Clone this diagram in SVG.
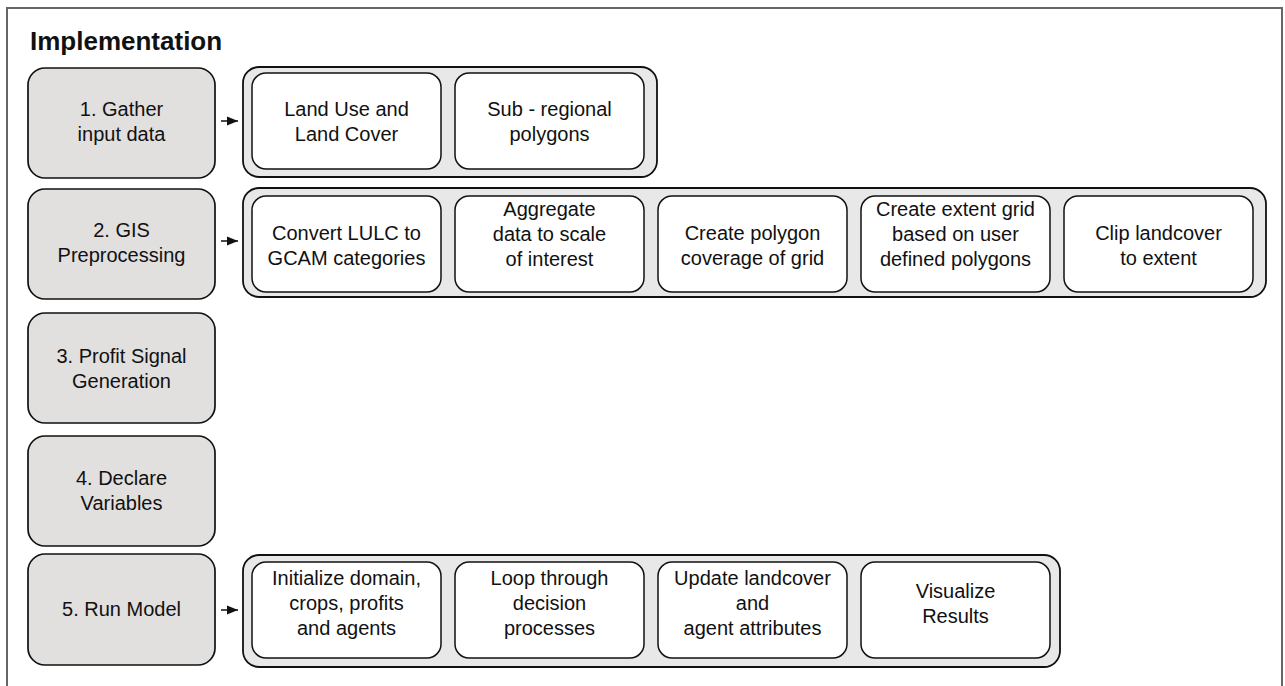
<svg xmlns="http://www.w3.org/2000/svg" width="1285" height="686" viewBox="0 0 1285 686">
<style>
.frame{fill:#fff;stroke:#666;stroke-width:2}
.step{fill:#e2dfdf;stroke:#111;stroke-width:1.7}
.cont{fill:#e8e8e8;stroke:#111;stroke-width:1.8}
.box{fill:#fff;stroke:#111;stroke-width:1.5}
text{font-family:"Liberation Sans",Arial,sans-serif;font-size:20px;fill:#111;text-anchor:middle}
.title{font-weight:bold;font-size:26px;text-anchor:start}
.conn{stroke:#111;stroke-width:1.5;fill:none;marker-end:url(#ah)}
</style>
<defs>
<marker id="ah" viewBox="0 0 10 10" refX="10" refY="5" markerWidth="11" markerHeight="11" markerUnits="userSpaceOnUse" orient="auto">
<path d="M0,1 L10,5 L0,9 Z" fill="#111"/>
</marker>
</defs>
<rect class="frame" x="7" y="8" width="1275" height="700"/>
<text class="title" x="30" y="50">Implementation</text>

<g id="step1"><rect class="step" x="28" y="68" width="187" height="110" rx="17"/><text x="121.5" y="116">1. Gather</text><text x="121.5" y="141">input data</text></g>
<g id="step2"><rect class="step" x="28" y="189" width="187" height="110" rx="17"/><text x="121.5" y="237">2. GIS</text><text x="121.5" y="262">Preprocessing</text></g>
<g id="step3"><rect class="step" x="28" y="313" width="187" height="110" rx="17"/><text x="121.5" y="363">3. Profit Signal</text><text x="121.5" y="388">Generation</text></g>
<g id="step4"><rect class="step" x="28" y="436" width="187" height="110" rx="17"/><text x="121.5" y="485">4. Declare</text><text x="121.5" y="510">Variables</text></g>
<g id="step5"><rect class="step" x="28" y="554" width="187" height="111" rx="17"/><text x="121.5" y="616">5. Run Model</text></g>

<g id="group1"><rect class="cont" x="243" y="67" width="414" height="110" rx="16"/></g>
<g id="lulc"><rect class="box" x="252" y="73" width="189" height="96" rx="14"/><text x="346.5" y="116">Land Use and</text><text x="346.5" y="141">Land Cover</text></g>
<g id="subregional"><rect class="box" x="455" y="73" width="189" height="96" rx="14"/><text x="549.5" y="116">Sub - regional</text><text x="549.5" y="141">polygons</text></g>

<g id="group2"><rect class="cont" x="243" y="188" width="1023" height="109" rx="16"/></g>
<g id="convert"><rect class="box" x="252" y="196" width="189" height="96" rx="14"/><text x="346.5" y="240">Convert LULC to</text><text x="346.5" y="265">GCAM categories</text></g>
<g id="aggregate"><rect class="box" x="455" y="196" width="189" height="96" rx="14"/><text x="549.5" y="216">Aggregate</text><text x="549.5" y="241">data to scale</text><text x="549.5" y="266">of interest</text></g>
<g id="polycov"><rect class="box" x="658" y="196" width="189" height="96" rx="14"/><text x="752.5" y="240">Create polygon</text><text x="752.5" y="265">coverage of grid</text></g>
<g id="extent"><rect class="box" x="861" y="196" width="189" height="96" rx="14"/><text x="955.5" y="216">Create extent grid</text><text x="955.5" y="241">based on user</text><text x="955.5" y="266">defined polygons</text></g>
<g id="clip"><rect class="box" x="1064" y="196" width="189" height="96" rx="14"/><text x="1158.5" y="240">Clip landcover</text><text x="1158.5" y="265">to extent</text></g>

<g id="group5"><rect class="cont" x="243" y="555" width="817" height="112" rx="16"/></g>
<g id="init"><rect class="box" x="252" y="562" width="189" height="96" rx="14"/><text x="346.5" y="585">Initialize domain,</text><text x="346.5" y="610">crops, profits</text><text x="346.5" y="635">and agents</text></g>
<g id="loop"><rect class="box" x="455" y="562" width="189" height="96" rx="14"/><text x="549.5" y="585">Loop through</text><text x="549.5" y="610">decision</text><text x="549.5" y="635">processes</text></g>
<g id="update"><rect class="box" x="658" y="562" width="189" height="96" rx="14"/><text x="752.5" y="585">Update landcover</text><text x="752.5" y="610">and</text><text x="752.5" y="635">agent attributes</text></g>
<g id="visualize"><rect class="box" x="861" y="562" width="189" height="96" rx="14"/><text x="955.5" y="598">Visualize</text><text x="955.5" y="623">Results</text></g>

<g id="connectors">
<line class="conn" x1="221" y1="121" x2="238" y2="121"/>
<line class="conn" x1="221" y1="241" x2="238" y2="241"/>
<line class="conn" x1="221" y1="610" x2="238" y2="610"/>
</g>
</svg>
